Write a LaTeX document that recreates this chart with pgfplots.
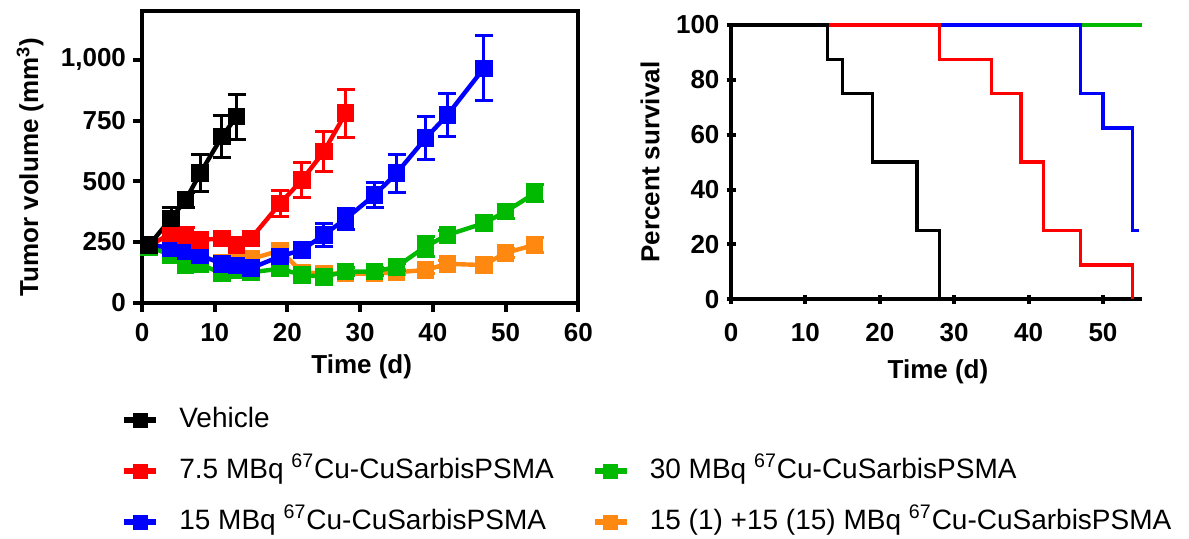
\documentclass[border=0pt]{standalone}
\usepackage{fontspec}
\setmainfont{Liberation Sans}
\usepackage{pgfplots}
\pgfplotsset{compat=1.18}
\definecolor{gpred}{RGB}{255,0,0}
\definecolor{gpblue}{RGB}{0,0,255}
\definecolor{gpgreen}{RGB}{0,185,0}
\definecolor{gporange}{RGB}{255,136,17}

\pgfplotsset{
  gp/.style={
    scale only axis, clip=false,
    axis line style={line width=2pt,-},
    tick align=outside, major tick length=4.5pt,
    major tick style={line width=2pt, black},
    tick pos=left,
    ticklabel style={font=\bfseries\fontsize{13}{15}\selectfont},
    /pgf/number format/assume math mode=true,
    /pgf/number format/1000 sep={,},
    label style={font=\bfseries\fontsize{13}{15}\selectfont},
  },
  ser/.style={line width=2.2pt, mark=square*, mark size=4pt,
    mark options={solid, line width=0.8pt},
    error bars/y dir=both, error bars/y explicit,
    error bars/error bar style={line width=1.5pt},
    error bars/error mark options={rotate=90, mark size=4.5pt, line width=1.5pt}},
  km/.style={line width=1.7pt, const plot, no marks},
}

\begin{document}
\begin{tikzpicture}
\path[use as bounding box] (0,0) rectangle (594.5pt,269.5pt);

% tumour growth
\begin{axis}[gp,
  at={(71pt,118.15pt)}, anchor=south west,
  width=218.15pt, height=145.7pt,
  xmin=0, xmax=60, ymin=0, ymax=1200,
  xtick={0,10,...,60}, ytick={0,250,500,750,1000},
  xticklabel style={yshift=-2.5pt},
  xlabel={Time (d)},
  ylabel={Tumor volume (mm\textsuperscript{3})},
  xlabel style={at={(axis description cs:0.5036,-0.2196)}, anchor=center},
  ylabel style={at={(axis description cs:-0.2567,0.4657)}, anchor=center},
  legend columns=2,
  legend cell align=left,
  legend style={at={(-0.062,-0.578)}, anchor=west, draw=none, fill=none,
    font=\fontsize{14}{16}\selectfont,
    nodes={inner sep=0pt, text height=10pt, text depth=3pt},
    row sep=12.5pt,
    /tikz/every odd column/.append style={column sep=10pt},
    /tikz/every even column/.append style={column sep=19pt}},
  legend image code/.code={
    \draw[#1, line width=3pt] (0pt,0pt) -- (16pt,0pt);
    \draw[#1, mark size=3.3pt] plot coordinates {(8pt,0pt)};
  },
]
\addplot[ser, color=gporange, forget plot] coordinates {
  (1,240) +- (0,15) (4,225) +- (0,15) (6,200) +- (0,15) (8,190) +- (0,15)
  (11,165) +- (0,15) (13,165) +- (0,15) (15,180) +- (0,15) (19,215) +- (0,20)
  (22,125) +- (0,15) (25,120) +- (0,10) (28,120) +- (0,10) (32,120) +- (0,10)
  (35,125) +- (0,10) (39,135) +- (0,15) (42,160) +- (0,15) (47,155) +- (0,15)
  (50,205) +- (0,20) (54,238) +- (0,30)
};
\addplot[ser, color=gpgreen, forget plot] coordinates {
  (1,230) +- (0,15) (4,196) +- (0,15) (6,155) +- (0,15) (8,158) +- (0,15)
  (11,121) +- (0,15) (13,135) +- (0,15) (15,125) +- (0,15) (19,140) +- (0,15)
  (22,114) +- (0,15) (25,107) +- (0,15) (28,128) +- (0,15) (32,128) +- (0,15)
  (35,148) +- (0,15) (39,231) +- (0,40) (42,279) +- (0,20) (47,327) +- (0,30)
  (50,375) +- (0,30) (54,450) +- (0,35)
};
\addplot[ser, color=gpblue, forget plot] coordinates {
  (1,240) +- (0,15) (4,224) +- (0,20) (6,210) +- (0,20) (8,196) +- (0,20)
  (11,160) +- (0,20) (13,153) +- (0,20) (15,142) +- (0,20) (19,191) +- (0,25)
  (22,217) +- (0,30) (25,279) +- (0,48) (28,345) +- (0,43) (32,444) +- (0,53)
  (35,533) +- (0,79) (39,677) +- (0,89) (42,773) +- (0,89) (47,965) +- (0,134)
};
\addplot[ser, color=gpred, forget plot] coordinates {
  (1,235) +- (0,20) (4,285) +- (0,30) (6,279) +- (0,30) (8,258) +- (0,30)
  (11,265) +- (0,30) (13,238) +- (0,30) (15,265) +- (0,30) (19,409) +- (0,55)
  (22,505) +- (0,72) (25,622) +- (0,82) (28,780) +- (0,100)
};
\addplot[ser, color=black, forget plot] coordinates {
  (1,238) +- (0,20) (4,347) +- (0,45) (6,423) +- (0,30) (8,533) +- (0,77)
  (11,684) +- (0,87) (13,766) +- (0,93)
};
\addlegendimage{ser, color=black}
\addlegendentry{Vehicle}
\addlegendimage{empty legend}
\addlegendentry{}
\addlegendimage{ser, color=gpred}
\addlegendentry{7.5 MBq \textsuperscript{67}Cu-CuSarbisPSMA}
\addlegendimage{ser, color=gpgreen}
\addlegendentry{30 MBq \textsuperscript{67}Cu-CuSarbisPSMA}
\addlegendimage{ser, color=gpblue}
\addlegendentry{15 MBq \textsuperscript{67}Cu-CuSarbisPSMA}
\addlegendimage{ser, color=gporange}
\addlegendentry{15 (1) +15 (15) MBq \textsuperscript{67}Cu-CuSarbisPSMA}
\end{axis}

% survival
\begin{axis}[gp,
  at={(365.5pt,119.85pt)}, anchor=south west,
  width=205.7pt, height=137.15pt,
  axis x line=bottom, axis y line=left,
  every outer x axis line/.append style={-},
  every outer y axis line/.append style={-},
  xmin=0, xmax=55.3, ymin=0, ymax=100,
  xtick={0,10,...,50}, ytick={0,20,...,100},
  xticklabel style={yshift=-6pt},
  xlabel={Time (d)},
  ylabel={Percent survival},
  xlabel style={at={(axis description cs:0.503,-0.264)}, anchor=center},
  ylabel style={at={(axis description cs:-0.1969,0.5)}, anchor=center},
]
\addplot[km, color=gporange] coordinates {(0,100) (55,100)};
\addplot[km, color=gpgreen] coordinates {(0,100) (55.3,100)};
\addplot[km, color=gpblue] coordinates {(0,100) (47,75) (50,62.5) (54,25) (54.9,25)};
\addplot[km, color=gpred] coordinates {(0,100) (28,87.5) (35,75) (39,50) (42,25) (47,12.5) (54,0)};
\addplot[km, color=black] coordinates {(0,100) (13,87.5) (15,75) (19,50) (25,25) (28,0)};
\end{axis}
\end{tikzpicture}
\end{document}
